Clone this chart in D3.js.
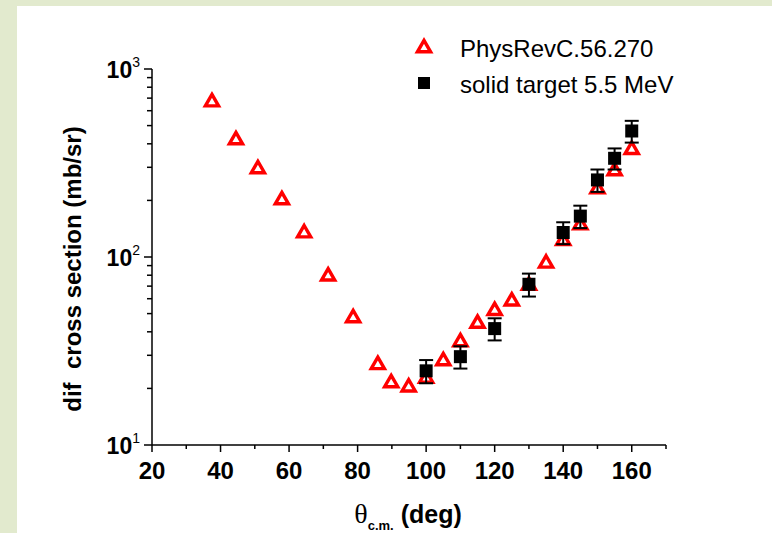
<!DOCTYPE html>
<html>
<head>
<meta charset="utf-8">
<script src="https://cdn.jsdelivr.net/npm/d3@7"></script>
<style>
  body { margin: 0; background: #e2eace; }
  svg { display: block; }
  text { white-space: pre; }
</style>
</head>
<body>
<div id="chart"></div>
<script>
// reference data (PhysRevC.56.270)
var refAngle = [37.5, 44.5, 50.9, 57.9, 64.4, 71.4, 78.7, 85.9, 89.8, 94.9, 100, 105, 110, 115, 120, 125, 130, 135, 140, 145, 150, 155, 160];
var refXs    = [667, 419, 294, 201, 134, 79, 47.4, 26.7, 21.4, 20.3, 22.6, 28, 35.3, 44.3, 51.8, 58.2, 70.5, 92.5, 122, 148, 230, 287, 372];

// solid target 5.5 MeV
var solAngle = [100, 110, 120, 130, 140, 145, 150, 155, 160];
var solXs    = [24.8, 29.5, 41.6, 71.6, 135, 165, 257, 335, 468];
var solErr   = [3.5, 4.0, 5.6, 10, 18, 22.5, 35, 43, 62];

var xMajor = [20, 40, 60, 80, 100, 120, 140, 160];
var xMinor = [30, 50, 70, 90, 110, 130, 150, 170];
var yMajor = [10, 100, 1000];

var W = 772, H = 533;
var svg = d3.select("#chart").append("svg")
    .attr("width", W)
    .attr("height", H);

// white panel
svg.append("rect")
    .attr("x", 17).attr("y", 6)
    .attr("width", W - 17).attr("height", H - 6)
    .attr("fill", "white");

var x = d3.scaleLinear().domain([20, 170]).range([152, 666]);
var y = d3.scaleLog().domain([10, 1000]).range([445, 69]);

var font = "'Liberation Sans', Arial, sans-serif";

// minor y ticks
var yMinor = [];
[10, 100].forEach(function(d) {
  for (var k = 2; k <= 9; k++) yMinor.push(d * k);
});

var ax = svg.append("g").attr("stroke", "black").attr("stroke-width", 1.5);

// axis lines
ax.append("line").attr("x1", x(20)).attr("x2", x(170)).attr("y1", y(10)).attr("y2", y(10));
ax.append("line").attr("x1", x(20)).attr("x2", x(20)).attr("y1", y(10)).attr("y2", y(1000));

ax.selectAll(".xmaj").data(xMajor).enter().append("line")
    .attr("x1", function(d) { return x(d); }).attr("x2", function(d) { return x(d); })
    .attr("y1", y(10)).attr("y2", y(10) + 7);
ax.selectAll(".xmin").data(xMinor).enter().append("line")
    .attr("x1", function(d) { return x(d); }).attr("x2", function(d) { return x(d); })
    .attr("y1", y(10)).attr("y2", y(10) + 4);
ax.selectAll(".ymaj").data(yMajor).enter().append("line")
    .attr("y1", function(d) { return y(d); }).attr("y2", function(d) { return y(d); })
    .attr("x1", x(20)).attr("x2", x(20) - 8);
ax.selectAll(".ymin").data(yMinor).enter().append("line")
    .attr("y1", function(d) { return y(d); }).attr("y2", function(d) { return y(d); })
    .attr("x1", x(20)).attr("x2", x(20) - 5);

// x tick labels
svg.selectAll(".xlab").data(xMajor).enter().append("text")
    .attr("x", function(d) { return x(d); })
    .attr("y", y(10) + 34)
    .attr("text-anchor", "middle")
    .attr("font-family", font).attr("font-weight", "bold").attr("font-size", 24)
    .text(function(d) { return d; });

// y tick labels 10^n
var ylab = svg.selectAll(".ylab").data(yMajor).enter().append("text")
    .attr("x", x(20) - 12)
    .attr("y", function(d) { return y(d) + 9; })
    .attr("text-anchor", "end")
    .attr("font-family", font).attr("font-weight", "bold").attr("font-size", 23);
ylab.append("tspan").text("10");
ylab.append("tspan").attr("font-size", 14).attr("font-weight", "normal").attr("dy", -11)
    .text(function(d) { return Math.round(Math.log10(d)); });

// axis titles
svg.append("text")
    .attr("transform", "translate(81,269) rotate(-90)")
    .attr("text-anchor", "middle")
    .attr("font-family", font).attr("font-weight", "bold").attr("font-size", 24)
    .text("dif  cross section (mb/sr)");

var xt = svg.append("text")
    .attr("x", 408).attr("y", 523)
    .attr("text-anchor", "middle")
    .attr("font-family", font).attr("font-weight", "bold").attr("font-size", 25);
xt.append("tspan").attr("font-family", "'Liberation Serif', serif").attr("font-weight", "normal").attr("font-size", 28).text("θ");
xt.append("tspan").attr("font-size", 13).attr("dy", 7).text("c.m.");
xt.append("tspan").attr("dy", -7).text(" (deg)");

// symbols
var tri = d3.symbol().type(d3.symbolTriangle).size(75);

svg.append("g").selectAll("path").data(refAngle).enter().append("path")
    .attr("d", tri)
    .attr("transform", function(d, i) { return "translate(" + x(d) + "," + y(refXs[i]) + ")"; })
    .attr("fill", "white").attr("stroke", "#ff0000").attr("stroke-width", 3.4);

var eb = svg.append("g").attr("stroke", "black").attr("stroke-width", 2);
solAngle.forEach(function(a, i) {
  var cx = x(a), yt = y(solXs[i] + solErr[i]), yb = y(solXs[i] - solErr[i]);
  eb.append("line").attr("x1", cx).attr("x2", cx).attr("y1", yt).attr("y2", yb);
  eb.append("line").attr("x1", cx - 7).attr("x2", cx + 7).attr("y1", yt).attr("y2", yt);
  eb.append("line").attr("x1", cx - 7).attr("x2", cx + 7).attr("y1", yb).attr("y2", yb);
});

svg.append("g").selectAll("rect").data(solAngle).enter().append("rect")
    .attr("x", function(d) { return x(d) - 6.5; })
    .attr("y", function(d, i) { return y(solXs[i]) - 6.5; })
    .attr("width", 13).attr("height", 13)
    .attr("fill", "black");

// legend
var lg = svg.append("g");
lg.append("path").attr("d", tri).attr("transform", "translate(424,48)")
    .attr("fill", "white").attr("stroke", "#ff0000").attr("stroke-width", 3.4);
lg.append("rect").attr("x", 418).attr("y", 77).attr("width", 12).attr("height", 12).attr("fill", "black");
lg.append("text").attr("x", 460).attr("y", 57)
    .attr("font-family", font).attr("font-size", 24).text("PhysRevC.56.270");
lg.append("text").attr("x", 460).attr("y", 93)
    .attr("font-family", font).attr("font-size", 24).text("solid target 5.5 MeV");
</script>
</body>
</html>
